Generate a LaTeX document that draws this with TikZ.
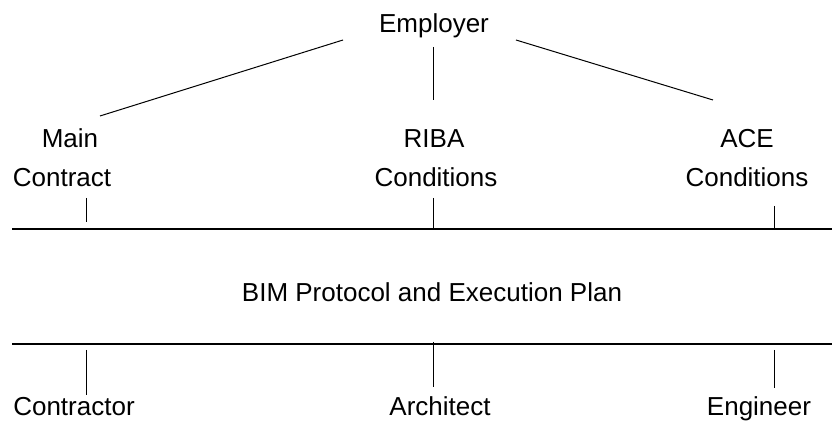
\documentclass[tikz,border=0pt]{standalone}
\usepackage{fontspec}
\setmainfont{Liberation Sans}

\begin{document}
\begin{tikzpicture}[x=0.5pt,y=-0.5pt,
        lbl/.style={anchor=base, inner sep=0pt, font=\fontsize{13}{15.6}\selectfont},
        link/.style={black, line width=0.5pt},
        bar/.style={black, line width=1.2pt}]
                \useasboundingbox (0,0) rectangle (832,421);
                % labels
                \node[lbl] (employer) at (434,33) {Employer};
                \node[lbl] (main) at (70,148) {Main};
                \node[lbl] (contract) at (62,187) {Contract};
                \node[lbl] (riba) at (434,148) {RIBA};
                \node[lbl] (ribacond) at (436,187) {Conditions};
                \node[lbl] (ace) at (747,148) {ACE};
                \node[lbl] (acecond) at (747,187) {Conditions};
                \node[lbl] (bim) at (432,302) {BIM Protocol and Execution Plan};
                \node[lbl] (contractor) at (74,416) {Contractor};
                \node[lbl] (architect) at (440,416) {Architect};
                \node[lbl] (engineer) at (759,416) {Engineer};
                % line ends
                \coordinate (emp-l) at (343,40);
                \coordinate (emp-m) at (433,47);
                \coordinate (emp-r) at (516,40);
                \coordinate (main-t) at (100,116);
                \coordinate (riba-t) at (433,100);
                \coordinate (ace-t) at (713,100);
                \coordinate (upper-w) at (12,229);
                \coordinate (upper-e) at (832,229);
                \coordinate (lower-w) at (12,344);
                \coordinate (lower-e) at (832,344);
                \coordinate (main-b) at (86,198);
                \coordinate (main-s) at (86,222);
                \coordinate (riba-b) at (433,198);
                \coordinate (riba-s) at (433,229);
                \coordinate (ace-b) at (774,206);
                \coordinate (ace-s) at (774,229);
                \coordinate (contractor-n) at (86,350);
                \coordinate (contractor-t) at (86,395);
                \coordinate (architect-n) at (433,342);
                \coordinate (architect-t) at (433,387);
                \coordinate (engineer-n) at (774,350);
                \coordinate (engineer-t) at (774,388);
                % employer links
                \draw[link] (emp-l) -- (main-t);
                \draw[link] (emp-m) -- (riba-t);
                \draw[link] (emp-r) -- (ace-t);
                % protocol bars
                \draw[bar] (upper-w) -- (upper-e);
                \draw[bar] (lower-w) -- (lower-e);
                \draw[link] (main-b) -- (main-s);
                \draw[link] (riba-b) -- (riba-s);
                \draw[link] (ace-b) -- (ace-s);
                \draw[link] (contractor-n) -- (contractor-t);
                \draw[link] (architect-n) -- (architect-t);
                \draw[link] (engineer-n) -- (engineer-t);
\end{tikzpicture}
\end{document}
